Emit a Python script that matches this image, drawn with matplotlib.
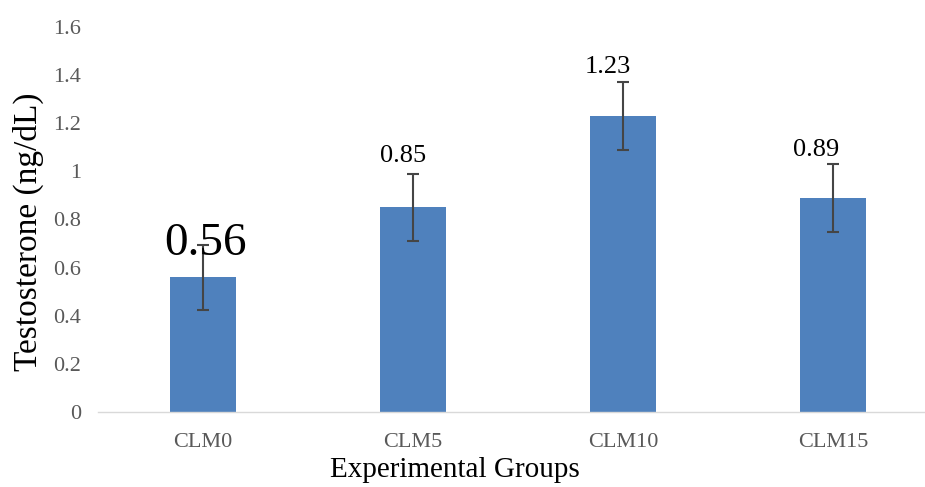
import matplotlib

matplotlib.use("Agg")
import matplotlib.pyplot as plt

# datos
grupos = ["CLM0", "CLM5", "CLM10", "CLM15"]
testosterona = [0.56, 0.85, 1.23, 0.89]
error = [0.135, 0.14, 0.14, 0.14]
etiquetas = ["0.56", "0.85", "1.23", "0.89"]
yticks = [0, 0.2, 0.4, 0.6, 0.8, 1.0, 1.2, 1.4, 1.6]
ytick_labels = ["0", "0.2", "0.4", "0.6", "0.8", "1", "1.2", "1.4", "1.6"]

plt.rcParams["font.family"] = ["Liberation Serif", "DejaVu Serif"]

fig = plt.figure(figsize=(9.25, 4.87), dpi=100)
ax = fig.add_axes([98 / 925, 75 / 487, 840 / 925, 385 / 487])

x = range(len(grupos))
ax.bar(x, testosterona, width=0.31, color="#4F81BD", zorder=2)
ax.errorbar(x, testosterona, yerr=error, fmt="none", ecolor="#454545",
            elinewidth=1.5, capsize=4, capthick=1.5, zorder=3)

# posicion de cada etiqueta (desplazamiento en pixeles) y tamano
desplaz = [(3, 22), (-10, 45), (-15, 43), (-17, 42)]
tamanos = [34, 19, 19, 19]
for i, (v, t) in enumerate(zip(testosterona, etiquetas)):
    ax.annotate(t, (i, v), xytext=desplaz[i], textcoords="offset pixels",
                ha="center", va="baseline", fontsize=tamanos[i], color="black",
                zorder=4)

ax.set_xlim(-0.5, 3.5)
ax.set_ylim(0, 1.6)
ax.set_xticks(list(x))
ax.set_xticklabels(grupos)
ax.set_yticks(yticks)
ax.set_yticklabels(ytick_labels)
ax.tick_params(axis="both", length=0, labelsize=16, colors="#595959")
ax.tick_params(axis="x", pad=15)
ax.tick_params(axis="y", pad=12)

for lado in ["top", "right", "left"]:
    ax.spines[lado].set_visible(False)
ax.spines["bottom"].set_color("#D9D9D9")
ax.spines["bottom"].set_linewidth(1)

ax.set_xlabel("Experimental Groups", fontsize=21, color="black")
ax.set_ylabel("Testosterone (ng/dL)", fontsize=24, color="black")
ax.xaxis.set_label_coords(0.425, -0.151)
ax.yaxis.set_label_coords(-0.083, 0.468)
ax.xaxis.label.set_va("center")
ax.yaxis.label.set_va("center")

fig.savefig("out.png", dpi=100)
